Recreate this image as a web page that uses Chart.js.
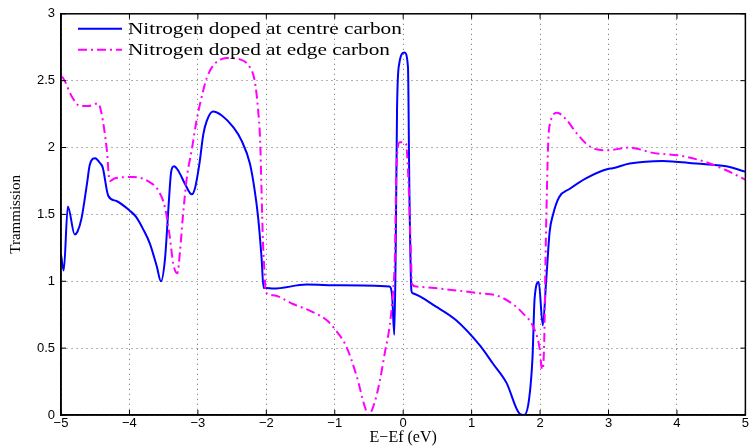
<!DOCTYPE html>
<html lang="en">
<head>
  <meta charset="UTF-8" />
  <title>Tramission vs E-Ef</title>
  <script src="https://cdn.jsdelivr.net/npm/chart.js"></script>
  <style>
    html, body { margin: 0; padding: 0; background: #fff; }
    canvas { display: block; }
  </style>
</head>
<body>
  <canvas id="chart" width="750" height="448"></canvas>

  <script>
    const centreLabel = "Nitrogen doped at centre carbon";
    const edgeLabel = "Nitrogen doped at edge carbon";
    const xTicks = [-5, -4, -3, -2, -1, 0, 1, 2, 3, 4, 5];
    const yTicks = [0, 0.5, 1, 1.5, 2, 2.5, 3];

    const centreX = [-5.0, -4.96, -4.90, -4.80, -4.76, -4.70, -4.62, -4.58, -4.50, -4.44, -4.39, -4.31, -4.19, -4.0,
      -3.90, -3.80, -3.70, -3.60, -3.54, -3.48, -3.43, -3.39, -3.35, -3.29, -3.19, -3.09, -3.04, -2.98, -2.92,
      -2.87, -2.78, -2.65, -2.48, -2.36, -2.24, -2.17, -2.12, -2.07, -2.04, -2.0, -1.90, -1.41, -0.93, -0.20,
      -0.16, -0.13, -0.11, -0.09, -0.06, 0.02, 0.07, 0.09, 0.12, 0.14, 0.48, 0.77, 1.12, 1.31, 1.51, 1.70, 1.77,
      1.84, 1.89, 1.92, 1.98, 2.04, 2.09, 2.14, 2.19, 2.28, 2.43, 2.67, 2.99, 3.06, 3.31, 3.79, 4.28, 4.72, 5.0];
    const centreY = [1.20, 1.08, 1.56, 1.35, 1.37, 1.47, 1.73, 1.87, 1.92, 1.89, 1.85, 1.64, 1.60, 1.53,
      1.48, 1.39, 1.28, 1.11, 1.00, 1.17, 1.55, 1.82, 1.86, 1.83, 1.73, 1.65, 1.70, 1.87, 2.10,
      2.20, 2.27, 2.24, 2.15, 2.05, 1.88, 1.68, 1.48, 1.18, 0.95, 0.95, 0.945, 0.975, 0.97, 0.96,
      0.88, 0.60, 1.21, 2.28, 2.62, 2.71, 2.60, 1.70, 0.93, 0.91, 0.81, 0.71, 0.52, 0.385, 0.24, 0.01, 0.0,
      0.12, 0.435, 0.87, 0.995, 0.67, 1.01, 1.37, 1.50, 1.63, 1.69, 1.77, 1.84, 1.845, 1.88, 1.90, 1.88, 1.86, 1.82];

    const edgeX = [-5.0, -4.97, -4.84, -4.72, -4.60, -4.46, -4.41, -4.33, -4.29, -4.21, -3.94, -3.70, -3.58, -3.48,
      -3.41, -3.36, -3.30, -3.26, -3.22, -3.16, -3.09, -3.02, -2.92, -2.87, -2.78, -2.58, -2.39, -2.24, -2.17,
      -2.12, -2.09, -2.07, -2.05, -2.02, -2.01, -1.90, -1.61, -1.32, -1.12, -0.98, -0.83, -0.68, -0.56, -0.51,
      -0.42, -0.34, -0.27, -0.20, -0.15, -0.12, -0.10, -0.05, 0.04, 0.07, 0.105, 0.13, 0.19, 0.63, 1.12, 1.36,
      1.60, 1.75, 1.90, 1.99, 2.03, 2.06, 2.08, 2.10, 2.12, 2.15, 2.25, 2.38, 2.53, 2.67, 2.80, 2.99, 3.31, 3.65,
      4.04, 4.43, 4.72, 5.0];
    const edgeY = [2.53, 2.52, 2.38, 2.31, 2.31, 2.33, 2.26, 1.98, 1.75, 1.77, 1.78, 1.74, 1.68, 1.55,
      1.33, 1.13, 1.06, 1.23, 1.48, 1.78, 1.98, 2.20, 2.43, 2.52, 2.61, 2.67, 2.66, 2.60, 2.50,
      2.28, 2.05, 1.68, 1.31, 1.01, 0.92, 0.895, 0.83, 0.77, 0.71, 0.63, 0.51, 0.29, 0.06, 0.0,
      0.09, 0.26, 0.46, 0.66, 0.91, 1.21, 1.83, 2.04, 2.03, 1.83, 1.33, 0.98, 0.96, 0.94, 0.91, 0.895,
      0.83, 0.76, 0.66, 0.51, 0.34, 0.535, 1.18, 1.68, 2.05, 2.19, 2.26, 2.21, 2.11, 2.03, 1.99, 1.98, 2.0, 1.96,
      1.94, 1.89, 1.83, 1.76];

    const toPoints = (xs, ys) => xs.map((x, i) => ({ x: x, y: ys[i] }));
    const minus = v => String(v).replace("-", "\u2212");
    const edgeDash = [9, 4, 2, 4];

    // box, inward ticks and the legend, matlab style
    const frame = {
      id: "frame",
      afterDraw(chart) {
        const { ctx, chartArea: a, scales } = chart;
        const line = (x1, y1, x2, y2) => {
          ctx.beginPath(); ctx.moveTo(x1, y1); ctx.lineTo(x2, y2); ctx.stroke();
        };
        ctx.save();
        ctx.strokeStyle = "#000";
        ctx.lineWidth = 1;
        xTicks.forEach(v => {
          const px = scales.x.getPixelForValue(v);
          line(px, a.bottom, px, a.bottom - 5);
          line(px, a.top, px, a.top + 5);
        });
        yTicks.forEach(v => {
          const py = scales.y.getPixelForValue(v);
          line(a.left, py, a.left + 5, py);
          line(a.right, py, a.right - 5, py);
        });
        ctx.lineWidth = 1.5;
        ctx.strokeRect(a.left, a.top, a.right - a.left, a.bottom - a.top);

        const rows = [
          { ds: chart.data.datasets[0], y: a.top + 15 },
          { ds: chart.data.datasets[1], y: a.top + 36 }
        ];
        rows.forEach(r => {
          ctx.strokeStyle = r.ds.borderColor;
          ctx.lineWidth = 2;
          ctx.setLineDash(r.ds.borderDash || []);
          line(a.left + 17, r.y, a.left + 61, r.y);
          ctx.setLineDash([]);
          ctx.save();
          ctx.translate(a.left + 67, r.y);
          ctx.scale(1.25, 1);
          ctx.fillStyle = "#000";
          ctx.font = "17px 'Liberation Serif'";
          ctx.textBaseline = "middle";
          ctx.fillText(r.ds.label, 0, 1);
          ctx.restore();
        });
        ctx.restore();
      }
    };

    new Chart(document.getElementById("chart"), {
      type: "line",
      data: {
        datasets: [
          {
            label: centreLabel,
            data: toPoints(centreX, centreY),
            borderColor: "#0000ff",
            borderWidth: 2,
            pointRadius: 0,
            cubicInterpolationMode: "monotone",
            order: 1
          },
          {
            label: edgeLabel,
            data: toPoints(edgeX, edgeY),
            borderColor: "#ff00ff",
            borderWidth: 2,
            borderDash: edgeDash,
            pointRadius: 0,
            cubicInterpolationMode: "monotone",
            order: 0
          }
        ]
      },
      options: {
        responsive: false,
        animation: false,
        layout: { padding: { top: 13, right: 4, left: 0, bottom: 0 } },
        plugins: { legend: { display: false }, tooltip: { enabled: false } },
        scales: {
          x: {
            type: "linear",
            min: -5,
            max: 5,
            afterBuildTicks: s => { s.ticks = xTicks.map(v => ({ value: v })); },
            afterFit: s => { s.height = 33; },
            ticks: {
              callback: v => minus(v),
              color: "#000",
              padding: 1,
              maxRotation: 0,
              font: { family: "'Liberation Sans', Arial", size: 13 }
            },
            grid: { color: "rgba(0,0,0,0.6)", lineWidth: 1, drawTicks: false },
            border: { color: "#000", width: 1.5, dash: [1, 4] },
            title: {
              display: true,
              text: "E\u2212Ef (eV)",
              color: "#000",
              padding: { top: 0, bottom: 1 },
              font: { family: "'Liberation Serif', 'Times New Roman'", size: 16 }
            }
          },
          y: {
            min: 0,
            max: 3,
            afterBuildTicks: s => { s.ticks = yTicks.map(v => ({ value: v })); },
            afterFit: s => { s.width = 61; },
            ticks: {
              callback: v => minus(v),
              color: "#000",
              padding: 6,
              font: { family: "'Liberation Sans', Arial", size: 13 }
            },
            grid: { color: "rgba(0,0,0,0.6)", lineWidth: 1, drawTicks: false },
            border: { color: "#000", width: 1.5, dash: [1, 4] },
            title: {
              display: true,
              text: "Trammission",
              color: "#000",
              padding: { top: 7, bottom: 0 },
              font: { family: "'Liberation Serif', 'Times New Roman'", size: 15 }
            }
          }
        }
      },
      plugins: [frame]
    });
  </script>
</body>
</html>
